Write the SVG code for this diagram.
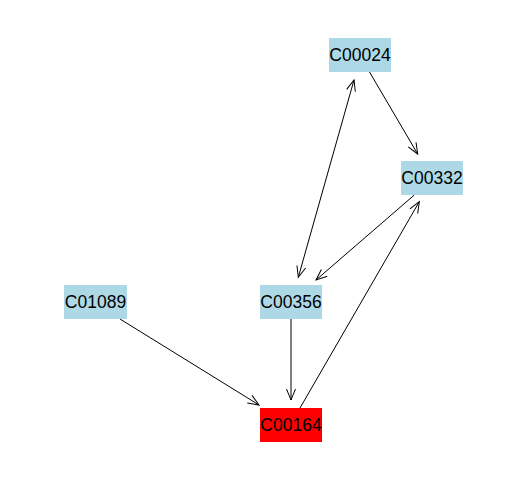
<svg xmlns="http://www.w3.org/2000/svg" width="528" height="480" viewBox="0 0 528 480">
<defs>
<marker id="arr" markerUnits="userSpaceOnUse" markerWidth="14" markerHeight="12" viewBox="-12 -6 14 12" refX="0" refY="0" orient="auto-start-reverse">
<path d="M-11,-4.5 L0,0 L-11,4.5" fill="none" stroke="#000" stroke-width="1"/>
</marker>
<style>
.n rect{fill:#add8e6}
.n text{font-family:"Liberation Sans",Arial,sans-serif;font-size:17.5px;fill:#000;text-anchor:middle}
.e line{stroke:#000;stroke-width:1;marker-end:url(#arr)}
</style>
</defs>
<rect width="528" height="480" fill="#fff"/>
<g id="edges" class="e">
<line x1="369.5" y1="72" x2="417.7" y2="154"/>
<line x1="298.3" y1="277.3" x2="354" y2="80" style="marker-start:url(#arr)"/>
<line x1="414.3" y1="195" x2="316" y2="280"/>
<line x1="291" y1="319" x2="291" y2="400"/>
<line x1="120" y1="319" x2="259" y2="405"/>
<line x1="300" y1="408" x2="419.3" y2="201.7"/>
</g>
<g id="C00024" class="n"><rect x="329" y="38" width="62" height="34"/><text x="360" y="61">C00024</text></g>
<g id="C00332" class="n"><rect x="401" y="161" width="62" height="34"/><text x="432" y="184">C00332</text></g>
<g id="C00356" class="n"><rect x="260" y="285" width="62" height="34"/><text x="291" y="308">C00356</text></g>
<g id="C01089" class="n"><rect x="64" y="285" width="63" height="34"/><text x="95.5" y="308">C01089</text></g>
<g id="C00164" class="n"><rect x="260" y="408" width="62" height="34" style="fill:#ff0000"/><text x="291" y="431">C00164</text></g>
</svg>
